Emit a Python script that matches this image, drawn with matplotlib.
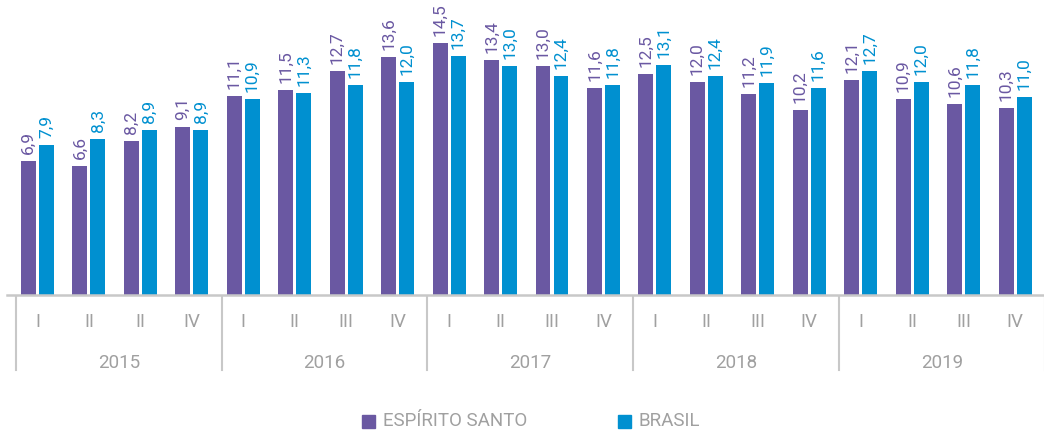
import matplotlib

matplotlib.use("Agg")
import matplotlib.pyplot as plt
from matplotlib.patches import Rectangle
from matplotlib.transforms import blended_transform_factory

years = ["2015", "2016", "2017", "2018", "2019"]
quarters = ["I", "II", "II", "IV",
            "I", "II", "III", "IV",
            "I", "II", "III", "IV",
            "I", "II", "III", "IV",
            "I", "II", "III", "IV"]
espirito_santo = [6.9, 6.6, 8.2, 9.1, 11.1, 11.5, 12.7, 13.6, 14.5, 13.4,
                  13.0, 11.6, 12.5, 12.0, 11.2, 10.2, 12.1, 10.9, 10.6, 10.3]
brasil = [7.9, 8.3, 8.9, 8.9, 10.9, 11.3, 11.8, 12.0, 13.7, 13.0,
          12.4, 11.8, 13.1, 12.4, 11.9, 11.6, 12.7, 12.0, 11.8, 11.0]

PURPLE = "#6a58a2"
BLUE = "#0090d0"
GRAY = "#a0a0a0"
LINE = "#c8c8c8"
BASE = -1.75

plt.rcParams["font.family"] = ["Roboto", "DejaVu Sans"]

fig = plt.figure(figsize=(10.44, 4.30), dpi=100)
ax = fig.add_axes([0, 1 - 295 / 430, 1, 295 / 430])
ax.set_xlim(-37.5 / 51.45, (1044 - 37.5) / 51.45)
ax.set_ylim(BASE, 295 / 15.5 + BASE)
ax.axis("off")

width = 0.29
x = list(range(len(quarters)))
for series, color, offset in ((espirito_santo, PURPLE, -0.175), (brasil, BLUE, 0.175)):
    xs = [i + offset for i in x]
    ax.bar(xs, [v - BASE for v in series], width=width, bottom=BASE, color=color)
    for xi, v in zip(xs, series):
        ax.annotate(f"{v:.1f}".replace(".", ","), (xi, v), xytext=(0, 5),
                    textcoords="offset points", rotation=90, ha="center",
                    va="bottom", color=color, fontsize=12.5)

# axis line, category rows
fig.add_artist(plt.Line2D([7 / 1044, 1], [1 - 295 / 430] * 2, color=LINE, lw=1.8))
trans = blended_transform_factory(ax.transData, fig.transFigure)
for i, q in enumerate(quarters):
    fig.text(i, 1 - 322 / 430, q, transform=trans, ha="center", va="center",
             color=GRAY, fontsize=13.5)
for k, year in enumerate(years):
    fig.text(4 * k + 1.58, 1 - 363 / 430, year, transform=trans, ha="center",
             va="center", color=GRAY, fontsize=13.5)
for k in range(len(years) + 1):
    xv = 4 * k - 0.42
    fig.add_artist(plt.Line2D([xv, xv], [1 - 297 / 430, 1 - 370 / 430],
                              transform=trans, color=LINE, lw=1.5))

# legend
for label, color, px in (("ESPÍRITO SANTO", PURPLE, 362), ("BRASIL", BLUE, 618)):
    fig.add_artist(Rectangle((px / 1044, 1 - 428 / 430), 13 / 1044, 13 / 430,
                             transform=fig.transFigure, color=color))
    fig.text((px + 21) / 1044, 1 - 421 / 430, label, ha="left", va="center",
             color=GRAY, fontsize=13.5)

fig.savefig("out.png", dpi=100)
